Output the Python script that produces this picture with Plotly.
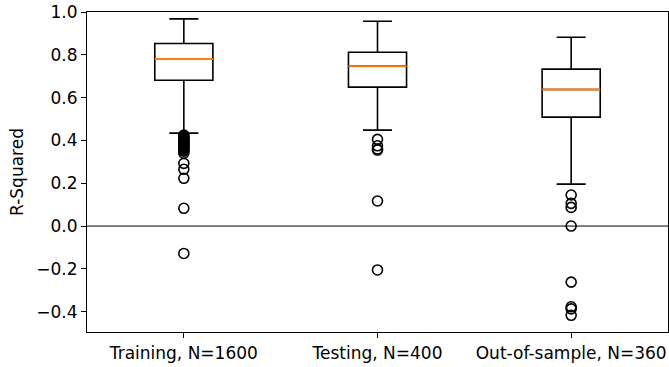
import plotly.graph_objects as go

categories = ["Training, N=1600", "Testing, N=400", "Out-of-sample, N=360"]
positions = [1, 2, 3]
q1 = [0.681, 0.649, 0.509]
median = [0.781, 0.747, 0.638]
q3 = [0.853, 0.812, 0.733]
lower_whisker = [0.434, 0.448, 0.196]
upper_whisker = [0.968, 0.957, 0.882]
outliers_training = [0.425, 0.42, 0.415, 0.41, 0.405, 0.40, 0.395, 0.39, 0.385, 0.38, 0.375,
                     0.37, 0.365, 0.36, 0.355, 0.35, 0.34, 0.293, 0.265, 0.223, 0.083, -0.128]
outliers_testing = [0.405, 0.375, 0.36, 0.355, 0.117, -0.205]
outliers_oos = [0.145, 0.106, 0.087, 0.0, -0.262, -0.377, -0.387, -0.417]
outliers = [outliers_training, outliers_testing, outliers_oos]

box_width = 0.3
fig = go.Figure()

fig.add_hline(y=0, line=dict(color="black", width=1), layer="below")

for i, p in enumerate(positions):
    fig.add_trace(go.Box(
        x=[p], q1=[q1[i]], median=[median[i]], q3=[q3[i]],
        lowerfence=[lower_whisker[i]], upperfence=[upper_whisker[i]],
        width=box_width, whiskerwidth=0.5,
        line=dict(color="black", width=1.6), fillcolor="rgba(0,0,0,0)",
        boxpoints=False, showlegend=False, hoverinfo="skip",
    ))
    fig.add_trace(go.Scatter(
        x=[p - box_width / 2, p + box_width / 2], y=[median[i], median[i]],
        mode="lines", line=dict(color="#ff7f0e", width=2),
        showlegend=False, hoverinfo="skip",
    ))
    fig.add_trace(go.Scatter(
        x=[p] * len(outliers[i]), y=outliers[i], mode="markers",
        marker=dict(symbol="circle-open", size=10, color="black", line=dict(width=1.6)),
        showlegend=False, hoverinfo="skip",
    ))

fig.update_layout(
    width=669, height=367,
    margin=dict(l=87, r=1, t=12, b=35),
    paper_bgcolor="white", plot_bgcolor="white",
    font=dict(family="DejaVu Sans", size=17, color="black"),
    xaxis=dict(
        range=[0.5, 3.5], tickmode="array", tickvals=positions, ticktext=categories,
        showgrid=False, zeroline=False, showline=True, mirror=True,
        linecolor="black", linewidth=1.2, ticks="outside", ticklen=5, tickcolor="black",
        tickfont=dict(size=17),
    ),
    yaxis=dict(
        range=[-0.495, 1.0], tickmode="array",
        tickvals=[-0.4, -0.2, 0.0, 0.2, 0.4, 0.6, 0.8, 1.0],
        ticktext=["−0.4", "−0.2", "0.0", "0.2", "0.4", "0.6", "0.8", "1.0"],
        showgrid=False, zeroline=False, showline=True, mirror=True,
        linecolor="black", linewidth=1.2, ticks="outside", ticklen=5, tickcolor="black",
        tickfont=dict(size=17),
        title=dict(text="R-Squared", font=dict(size=17), standoff=8),
    ),
)

fig.write_html("out.html", config={"displayModeBar": False},
               post_script="document.body.style.margin='0';document.body.style.overflow='hidden';")
